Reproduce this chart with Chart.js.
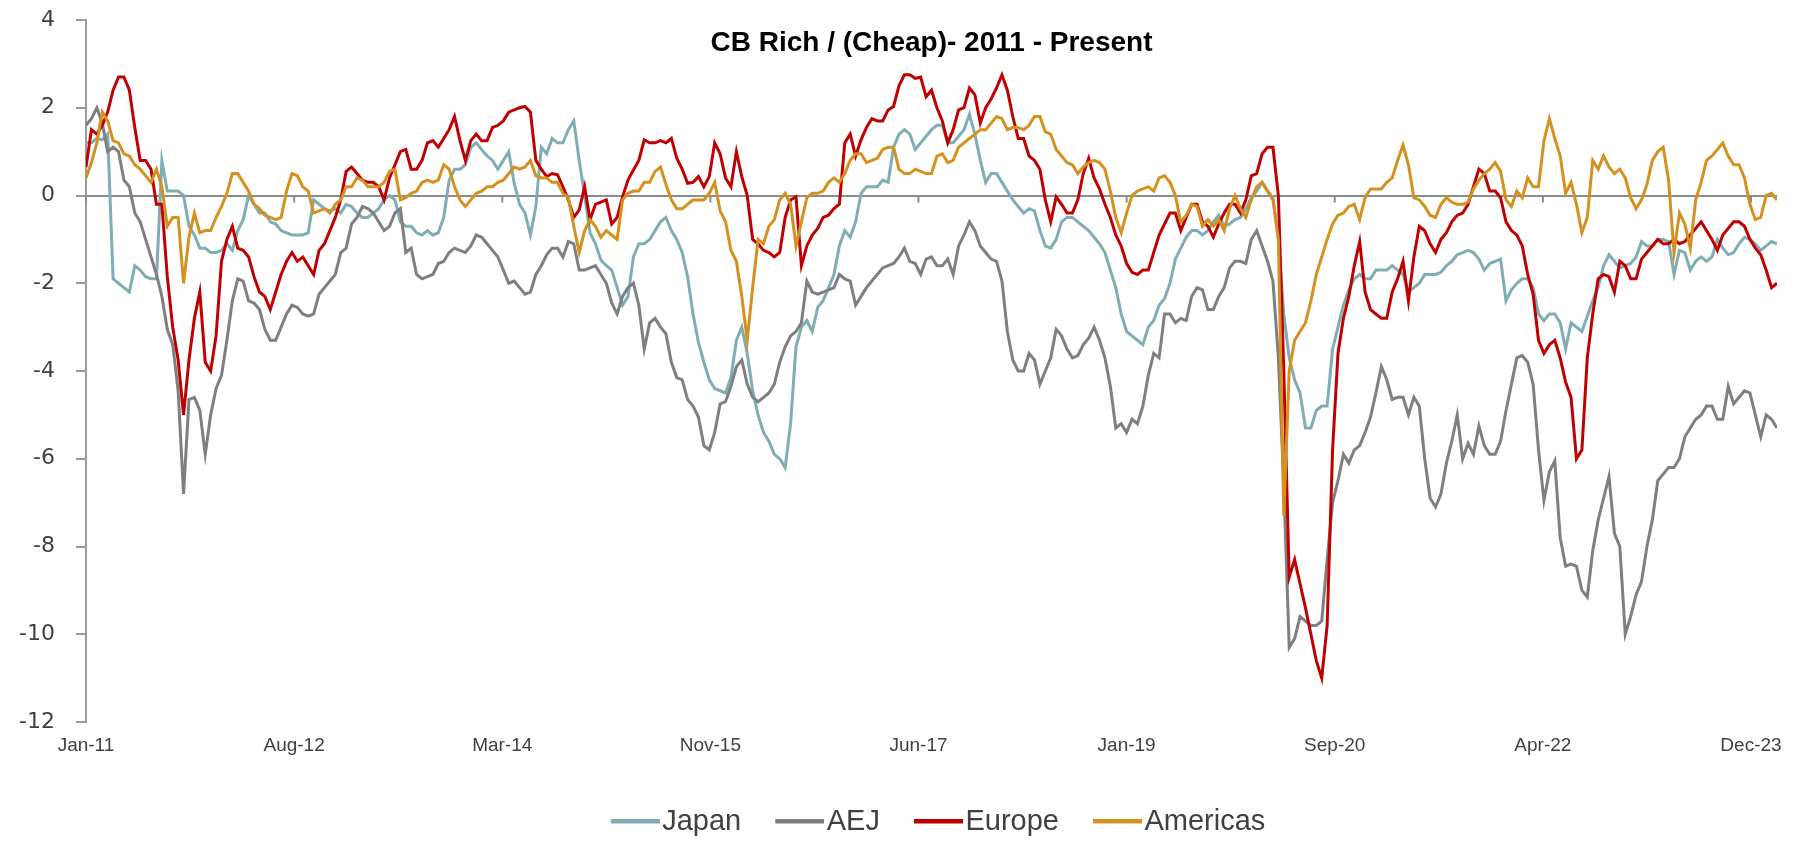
<!DOCTYPE html>
<html>
<head>
<meta charset="utf-8">
<title>CB Rich / (Cheap)</title>
<script src="https://cdn.jsdelivr.net/npm/chart.js@4.4.0/dist/chart.umd.min.js"></script>
<style>
  html, body { margin: 0; padding: 0; background: #ffffff; }
</style>
</head>
<body>
<canvas id="grafico" width="1804" height="841"></canvas>
<script>
// dos observaciones por mes aprox., desde ene-2011 (24 por fila)
var etiquetasX = ['Jan-11', 'Aug-12', 'Mar-14', 'Nov-15', 'Jun-17', 'Jan-19', 'Sep-20', 'Apr-22', 'Dec-23'];
var pasoEtiquetas = 38.4;   // observaciones entre etiquetas
var titulo = 'CB Rich / (Cheap)- 2011 - Present';

var japan = [
    1.2, 1.2, 1.3, 1.27, 1.4, -1.9, -2.0, -2.1, -2.2, -1.6, -1.7, -1.85, -1.9, -1.9, 0.8, 0.1, 0.1, 0.1, 0.0, -0.7, -0.9, -1.2, -1.2, -1.3,
    -1.3, -1.25, -1.1, -1.25, -0.8, -0.55, 0.0, -0.2, -0.4, -0.4, -0.6, -0.65, -0.8, -0.85, -0.9, -0.9, -0.9, -0.85, -0.1, -0.2, -0.3, -0.35, -0.3, -0.4,
    -0.2, -0.25, -0.4, -0.5, -0.5, -0.4, -0.3, -0.1, 0.0, -0.1, -0.6, -0.7, -0.7, -0.85, -0.9, -0.8, -0.9, -0.85, -0.5, 0.35, 0.6, 0.6, 0.7, 1.1,
    1.2, 1.05, 0.9, 0.8, 0.6, 0.8, 1.0, 0.28, -0.2, -0.4, -0.9, -0.25, 1.1, 0.95, 1.3, 1.2, 1.2, 1.5, 1.7, 0.8, 0.0, -0.85, -1.1, -1.47,
    -1.6, -1.7, -2.1, -2.5, -2.3, -1.4, -1.1, -1.1, -1.0, -0.8, -0.6, -0.5, -0.8, -1.0, -1.3, -1.85, -2.7, -3.35, -3.8, -4.2, -4.4, -4.45, -4.5, -4.15,
    -3.3, -3.0, -3.6, -4.45, -5.0, -5.4, -5.6, -5.9, -6.0, -6.2, -5.2, -3.45, -3.0, -2.85, -3.1, -2.55, -2.4, -2.1, -1.8, -1.15, -0.8, -0.95, -0.6, 0.05,
    0.2, 0.2, 0.2, 0.35, 0.3, 1.1, 1.4, 1.5, 1.4, 1.05, 1.2, 1.35, 1.5, 1.6, 1.6, 1.2, 1.2, 1.35, 1.5, 1.85, 1.4, 0.8, 0.3, 0.5,
    0.5, 0.3, 0.1, -0.1, -0.25, -0.4, -0.3, -0.35, -0.8, -1.15, -1.2, -1.0, -0.6, -0.5, -0.5, -0.6, -0.7, -0.8, -0.95, -1.1, -1.3, -1.7, -2.1, -2.7,
    -3.1, -3.2, -3.3, -3.4, -3.0, -2.85, -2.5, -2.35, -2.0, -1.45, -1.2, -0.95, -0.8, -0.8, -0.9, -0.8, -0.6, -0.45, -0.7, -0.65, -0.55, -0.5, -0.3, -0.05,
    0.1, 0.3, 0.1, -0.05, -1.0, -2.7, -3.7, -4.2, -4.5, -5.3, -5.3, -4.9, -4.8, -4.8, -3.5, -3.0, -2.5, -2.15, -1.9, -1.8, -1.9, -1.9, -1.7, -1.7,
    -1.7, -1.6, -1.7, -1.8, -2.2, -2.1, -2.0, -1.8, -1.8, -1.8, -1.75, -1.6, -1.5, -1.35, -1.3, -1.25, -1.3, -1.45, -1.7, -1.55, -1.5, -1.45, -2.4, -2.15,
    -2.0, -1.9, -1.9, -2.1, -2.7, -2.85, -2.7, -2.7, -2.9, -3.5, -2.9, -3.0, -3.1, -2.75, -2.4, -2.1, -1.6, -1.35, -1.5, -1.65, -1.6, -1.55, -1.4, -1.05,
    -1.15, -1.15, -1.0, -1.0, -1.05, -1.8, -1.25, -1.3, -1.7, -1.5, -1.4, -1.5, -1.4, -1.0, -1.2, -1.35, -1.3, -1.1, -0.95, -1.0, -1.1, -1.25, -1.15, -1.05,
    -1.1
];

var aej = [
    1.6, 1.75, 2.0, 1.65, 1.0, 1.1, 1.0, 0.35, 0.2, -0.4, -0.6, -1.0, -1.4, -1.8, -2.3, -3.05, -3.4, -4.45, -6.8, -4.65, -4.6, -4.9, -5.9, -5.0,
    -4.4, -4.1, -3.3, -2.4, -1.9, -1.95, -2.4, -2.45, -2.6, -3.05, -3.3, -3.3, -3.0, -2.7, -2.5, -2.55, -2.7, -2.75, -2.7, -2.25, -2.1, -1.95, -1.8, -1.3,
    -1.2, -0.65, -0.5, -0.25, -0.3, -0.4, -0.6, -0.8, -0.7, -0.4, -0.3, -1.3, -1.2, -1.8, -1.9, -1.85, -1.8, -1.55, -1.5, -1.3, -1.2, -1.25, -1.3, -1.15,
    -0.9, -0.95, -1.1, -1.25, -1.4, -1.7, -2.0, -1.95, -2.1, -2.25, -2.2, -1.8, -1.6, -1.35, -1.2, -1.2, -1.4, -1.05, -1.1, -1.7, -1.7, -1.65, -1.6, -1.8,
    -2.0, -2.45, -2.7, -2.3, -2.1, -2.0, -2.5, -3.5, -2.9, -2.8, -3.0, -3.15, -3.8, -4.15, -4.2, -4.65, -4.8, -5.05, -5.7, -5.8, -5.4, -4.75, -4.7, -4.35,
    -3.9, -3.75, -4.3, -4.6, -4.7, -4.6, -4.5, -4.3, -3.8, -3.45, -3.2, -3.1, -2.9, -1.95, -2.2, -2.25, -2.2, -2.15, -2.1, -1.8, -1.9, -1.95, -2.5, -2.3,
    -2.1, -1.95, -1.8, -1.65, -1.6, -1.55, -1.4, -1.2, -1.5, -1.55, -1.8, -1.45, -1.4, -1.6, -1.6, -1.45, -1.8, -1.15, -0.9, -0.6, -0.8, -1.15, -1.3, -1.45,
    -1.5, -1.95, -3.1, -3.75, -4.0, -4.0, -3.6, -3.75, -4.3, -4.0, -3.7, -3.05, -3.2, -3.5, -3.7, -3.65, -3.4, -3.25, -3.0, -3.3, -3.7, -4.35, -5.3, -5.2,
    -5.4, -5.1, -5.2, -4.8, -4.1, -3.6, -3.7, -2.7, -2.7, -2.9, -2.8, -2.85, -2.3, -2.1, -2.15, -2.6, -2.6, -2.3, -2.1, -1.65, -1.5, -1.5, -1.55, -1.0,
    -0.8, -1.15, -1.5, -1.95, -3.7, -6.6, -10.3, -10.1, -9.6, -9.7, -9.8, -9.8, -9.7, -8.3, -7.0, -6.5, -5.9, -6.1, -5.8, -5.7, -5.4, -5.05, -4.5, -3.9,
    -4.2, -4.65, -4.6, -4.6, -5.0, -4.6, -4.8, -6.0, -6.9, -7.1, -6.8, -6.1, -5.6, -5.0, -6.0, -5.65, -5.9, -5.25, -5.7, -5.9, -5.9, -5.6, -4.9, -4.3,
    -3.7, -3.65, -3.8, -4.3, -5.8, -6.95, -6.3, -6.05, -7.8, -8.45, -8.4, -8.45, -9.0, -9.15, -8.1, -7.4, -6.9, -6.4, -7.7, -8.0, -10.0, -9.6, -9.1, -8.8,
    -8.0, -7.4, -6.5, -6.35, -6.2, -6.2, -6.0, -5.5, -5.3, -5.1, -5.0, -4.8, -4.8, -5.1, -5.1, -4.35, -4.75, -4.6, -4.45, -4.5, -5.0, -5.5, -5.0, -5.1,
    -5.3
];

var europe = [
    0.65, 1.5, 1.4, 1.6, 1.9, 2.4, 2.7, 2.7, 2.4, 1.55, 0.8, 0.8, 0.6, -0.2, -0.2, -1.85, -3.0, -3.75, -5.0, -3.75, -2.8, -2.2, -3.8, -4.0,
    -3.2, -1.5, -1.0, -0.7, -1.2, -1.25, -1.4, -1.85, -2.2, -2.3, -2.6, -2.2, -1.8, -1.5, -1.3, -1.5, -1.4, -1.6, -1.8, -1.25, -1.1, -0.8, -0.5, -0.1,
    0.55, 0.65, 0.5, 0.35, 0.3, 0.3, 0.2, -0.1, 0.4, 0.7, 1.0, 1.05, 0.6, 0.6, 0.8, 1.2, 1.25, 1.1, 1.3, 1.5, 1.8, 1.25, 0.8, 1.25,
    1.4, 1.25, 1.25, 1.55, 1.6, 1.7, 1.9, 1.95, 2.0, 2.03, 1.9, 0.8, 0.6, 0.43, 0.5, 0.47, 0.2, -0.1, -0.5, -0.33, 0.2, -0.55, -0.2, -0.15,
    -0.1, -0.65, -0.5, -0.03, 0.35, 0.58, 0.8, 1.27, 1.2, 1.2, 1.25, 1.2, 1.3, 0.85, 0.6, 0.28, 0.3, 0.43, 0.2, 0.43, 1.2, 0.95, 0.4, 0.2,
    1.0, 0.43, 0.0, -1.0, -1.1, -1.25, -1.3, -1.4, -1.3, -0.5, -0.1, -0.03, -1.6, -1.15, -0.9, -0.75, -0.5, -0.45, -0.3, -0.2, 1.2, 1.4, 0.9, 1.27,
    1.55, 1.75, 1.7, 1.7, 1.95, 2.03, 2.5, 2.75, 2.75, 2.67, 2.7, 2.25, 2.4, 2.0, 1.7, 1.2, 1.5, 1.95, 2.0, 2.45, 2.3, 1.65, 2.0, 2.2,
    2.45, 2.75, 2.4, 1.8, 1.3, 1.3, 0.9, 0.8, 0.6, -0.1, -0.6, -0.03, -0.2, -0.4, -0.4, -0.1, 0.5, 0.85, 0.4, 0.15, -0.2, -0.5, -0.9, -1.15,
    -1.55, -1.75, -1.8, -1.7, -1.7, -1.3, -0.9, -0.65, -0.4, -0.4, -0.8, -0.5, -0.2, -0.2, -0.6, -0.7, -0.95, -0.65, -0.4, -0.2, -0.2, -0.4, -0.1, 0.45,
    0.5, 0.95, 1.1, 1.1, 0.0, -4.0, -8.7, -8.3, -8.85, -9.4, -10.0, -10.6, -11.0, -9.8, -5.8, -3.6, -2.8, -2.3, -1.6, -1.05, -2.2, -2.6, -2.7, -2.8,
    -2.8, -2.2, -1.9, -1.5, -2.4, -1.4, -0.7, -0.8, -1.1, -1.3, -1.0, -0.85, -0.6, -0.45, -0.4, -0.2, 0.2, 0.6, 0.5, 0.1, 0.1, -0.05, -0.6, -0.8,
    -0.9, -1.15, -1.8, -2.25, -3.3, -3.6, -3.4, -3.3, -3.7, -4.25, -4.6, -6.0, -5.8, -3.7, -2.7, -1.9, -1.8, -1.85, -2.2, -1.5, -1.6, -1.9, -1.9, -1.45,
    -1.3, -1.15, -1.0, -1.1, -1.1, -1.0, -1.1, -1.05, -0.9, -0.75, -0.6, -0.8, -1.0, -1.25, -0.9, -0.75, -0.6, -0.6, -0.7, -1.0, -1.2, -1.35, -1.7, -2.1,
    -2.0
];

var americas = [
    0.4, 0.75, 1.2, 1.9, 1.7, 1.25, 1.2, 0.95, 0.9, 0.7, 0.6, 0.45, 0.3, 0.6, 0.2, -0.7, -0.5, -0.5, -2.0, -0.95, -0.4, -0.85, -0.8, -0.8,
    -0.5, -0.25, 0.05, 0.5, 0.5, 0.3, 0.1, -0.2, -0.3, -0.45, -0.5, -0.55, -0.5, 0.1, 0.5, 0.45, 0.2, 0.1, -0.4, -0.35, -0.3, -0.4, -0.2, -0.1,
    0.2, 0.2, 0.4, 0.35, 0.2, 0.2, 0.2, 0.3, 0.55, 0.6, -0.1, -0.05, 0.05, 0.1, 0.3, 0.35, 0.3, 0.35, 0.7, 0.6, 0.2, -0.1, -0.25, -0.1,
    0.05, 0.1, 0.2, 0.2, 0.3, 0.35, 0.5, 0.65, 0.6, 0.65, 0.8, 0.45, 0.4, 0.4, 0.3, 0.3, 0.05, -0.05, -0.7, -1.3, -0.8, -0.55, -0.7, -0.95,
    -0.8, -0.9, -1.0, -0.1, 0.05, 0.1, 0.1, 0.3, 0.3, 0.55, 0.65, 0.25, -0.1, -0.3, -0.3, -0.2, -0.1, -0.1, -0.1, 0.05, 0.3, -0.35, -0.6, -1.25,
    -1.5, -2.3, -3.3, -2.1, -1.0, -1.1, -0.7, -0.55, -0.1, 0.05, -0.2, -1.15, -0.6, -0.05, 0.05, 0.05, 0.1, 0.3, 0.4, 0.3, 0.5, 0.8, 0.95, 0.95,
    0.75, 0.8, 0.85, 1.05, 1.1, 1.1, 0.6, 0.5, 0.5, 0.6, 0.55, 0.5, 0.5, 0.9, 0.95, 0.75, 0.8, 1.1, 1.2, 1.3, 1.4, 1.5, 1.5, 1.65,
    1.8, 1.75, 1.5, 1.55, 1.55, 1.5, 1.6, 1.8, 1.8, 1.45, 1.4, 1.05, 0.9, 0.75, 0.7, 0.5, 0.65, 0.75, 0.8, 0.75, 0.6, 0.1, -0.5, -0.85,
    -0.4, 0.0, 0.1, 0.15, 0.2, 0.1, 0.4, 0.45, 0.3, 0.0, -0.6, -0.45, -0.2, -0.25, -0.7, -0.55, -0.7, -0.55, -0.8, -0.3, 0.0, -0.3, -0.5, -0.1,
    0.2, 0.3, 0.1, -0.1, -1.0, -7.3, -4.0, -3.3, -3.1, -2.9, -2.4, -1.8, -1.4, -1.0, -0.65, -0.45, -0.4, -0.25, -0.2, -0.55, -0.05, 0.15, 0.15, 0.15,
    0.3, 0.4, 0.8, 1.15, 0.7, -0.05, -0.1, -0.25, -0.45, -0.5, -0.2, -0.05, -0.15, -0.2, -0.2, -0.15, 0.15, 0.35, 0.5, 0.6, 0.75, 0.55, -0.1, -0.25,
    0.1, -0.05, 0.4, 0.2, 0.2, 1.25, 1.75, 1.3, 0.9, 0.05, 0.3, -0.2, -0.85, -0.5, 0.8, 0.6, 0.9, 0.65, 0.5, 0.6, 0.4, -0.05, -0.3, -0.1,
    0.25, 0.8, 1.0, 1.1, 0.35, -1.3, -0.4, -0.65, -1.2, -0.1, 0.3, 0.8, 0.9, 1.05, 1.2, 0.9, 0.7, 0.7, 0.4, -0.2, -0.55, -0.5, 0.0, 0.05,
    -0.1
];

var colores = {
    japan: '#7fadb4',
    aej: '#7f7f7f',
    europe: '#c00000',
    americas: '#d4911f'
};

// titulo dentro del area del grafico
var tituloDentro = {
    id: 'tituloDentro',
    afterDraw: function(chart) {
        var ctx = chart.ctx;
        var a = chart.chartArea;
        ctx.save();
        ctx.font = 'bold 28px "Liberation Sans", Arial, sans-serif';
        ctx.fillStyle = '#000000';
        ctx.textAlign = 'center';
        ctx.textBaseline = 'middle';
        ctx.fillText(titulo, (a.left + a.right) / 2, a.top + 23);
        ctx.restore();
    }
};

// marcas del eje x sobre la linea del cero
var marcasCero = {
    id: 'marcasCero',
    beforeDatasetsDraw: function(chart) {
        var ctx = chart.ctx;
        var sx = chart.scales.x;
        var y0 = chart.scales.y.getPixelForValue(0);
        ctx.save();
        ctx.strokeStyle = '#8c8c8c';
        ctx.lineWidth = 2;
        for (var k = 0; k < sx.ticks.length; k++) {
            var px = sx.getPixelForTick(k);
            ctx.beginPath();
            ctx.moveTo(px, y0);
            ctx.lineTo(px, y0 + 7);
            ctx.stroke();
        }
        ctx.restore();
    }
};

// muestra de linea para la leyenda, pegada al texto
function muestraLinea(color) {
    var c = document.createElement('canvas');
    c.width = 74;
    c.height = 6;
    var g = c.getContext('2d');
    g.fillStyle = color;
    g.fillRect(25, 0, 49, 5);
    return c;
}

function serie(nombre, valores, color, orden) {
    return {
        label: nombre,
        data: valores.map(function(v, i) { return { x: i, y: v }; }),
        borderColor: color,
        backgroundColor: color,
        borderWidth: 3,
        pointRadius: 0,
        pointStyle: muestraLinea(color),
        tension: 0,
        fill: false,
        order: orden
    };
}

var ctx = document.getElementById('grafico').getContext('2d');
var grafico = new Chart(ctx, {
    type: 'line',
    data: {
        datasets: [
            serie('Japan', japan, colores.japan, 3),
            serie('AEJ', aej, colores.aej, 2),
            serie('Europe', europe, colores.europe, 1),
            serie('Americas', americas, colores.americas, 0)
        ]
    },
    options: {
        responsive: false,
        animation: false,
        events: [],
        layout: { padding: { top: 20, right: 0, bottom: -5, left: 0 } },
        scales: {
            x: {
                type: 'linear',
                min: 0,
                max: japan.length - 1,
                grid: { display: false, drawTicks: false },
                border: { display: false },
                ticks: {
                    autoSkip: false,
                    maxRotation: 0,
                    padding: 12,
                    color: '#404040',
                    font: { family: '"Liberation Sans", Arial, sans-serif', size: 19 },
                    callback: function(v, i) { return etiquetasX[i]; }
                },
                afterBuildTicks: function(s) {
                    s.ticks = etiquetasX.map(function(t, k) { return { value: k * pasoEtiquetas }; });
                },
                afterFit: function(s) {
                    s.height = 64;
                    s.paddingLeft = 0;
                    s.paddingRight = 27;
                }
            },
            y: {
                min: -12,
                max: 4,
                ticks: {
                    stepSize: 2,
                    padding: 21,
                    color: '#404040',
                    font: { family: '"DejaVu Sans", Verdana, sans-serif', size: 22 }
                },
                grid: {
                    color: function(c) { return (c.tick && c.tick.value === 0) ? '#8c8c8c' : 'rgba(0,0,0,0)'; },
                    lineWidth: 2,
                    tickColor: '#9a9a9a',
                    tickLength: 10,
                    drawTicks: true
                },
                border: { display: true, color: '#9a9a9a', width: 2 },
                afterFit: function(s) {
                    s.width = 86;
                    s.paddingTop = 0;
                    s.paddingBottom = 0;
                }
            }
        },
        plugins: {
            tooltip: { enabled: false },
            title: { display: false },
            legend: {
                position: 'bottom',
                fullSize: false,
                labels: {
                    usePointStyle: true,
                    pointStyleWidth: 50,
                    padding: 21,
                    color: '#404040',
                    font: { family: '"Liberation Sans", Arial, sans-serif', size: 29 },
                    sort: function(a, b) { return a.datasetIndex - b.datasetIndex; }
                }
            }
        }
    },
    plugins: [tituloDentro, marcasCero]
});
</script>
</body>
</html>
